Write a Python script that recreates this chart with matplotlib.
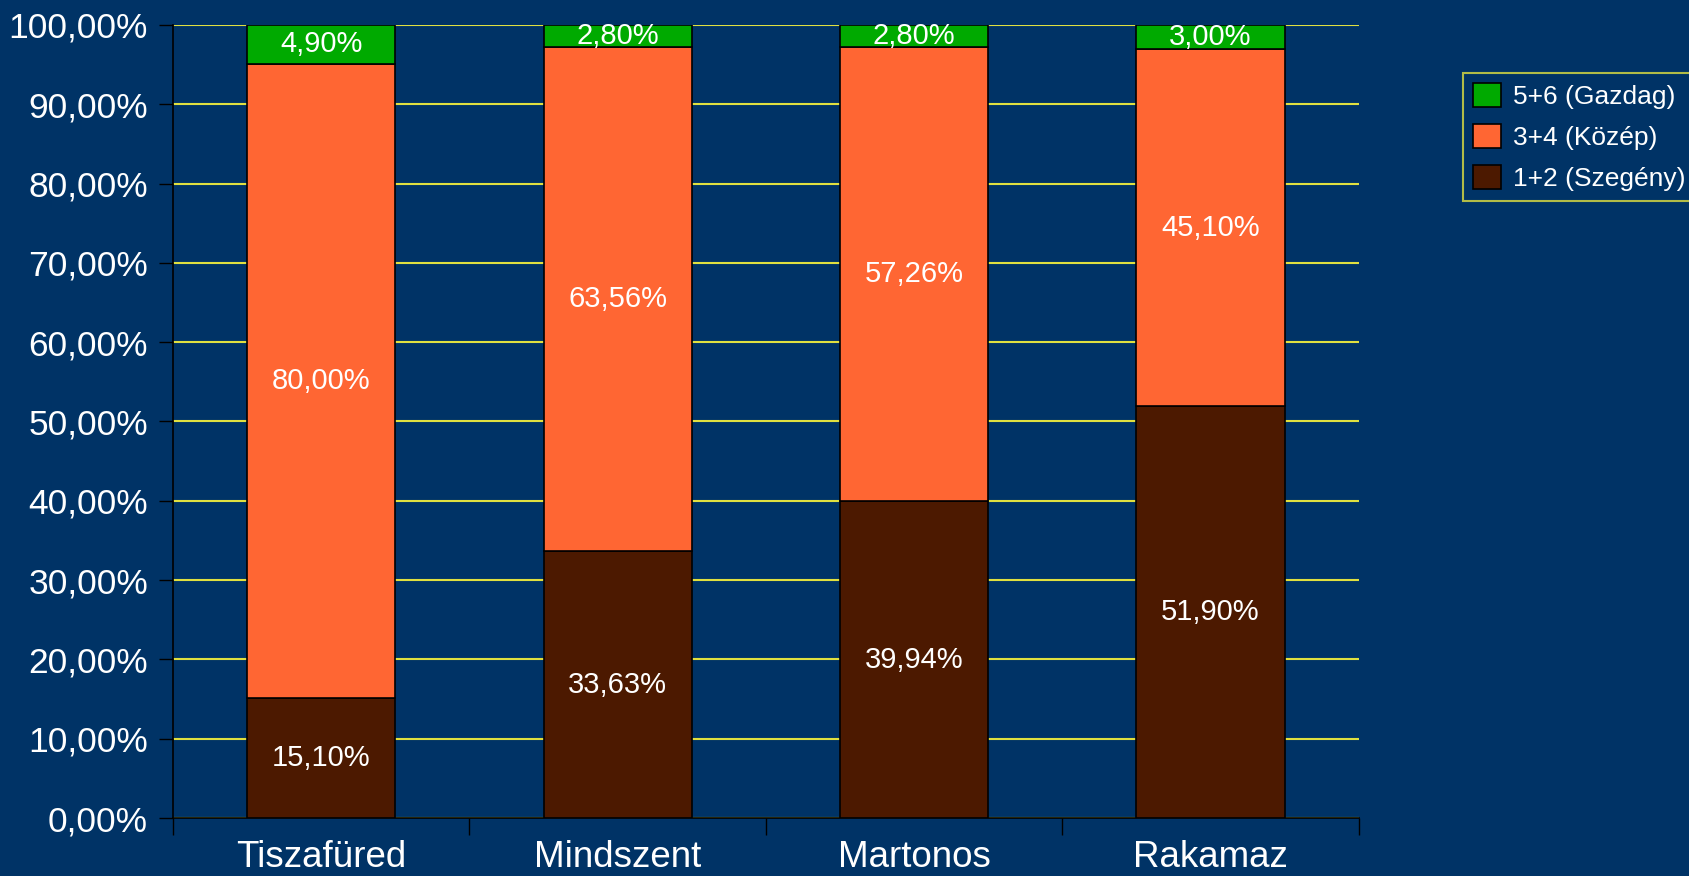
import numpy as np
import matplotlib.pyplot as plt

plt.rcParams["font.family"] = ["Liberation Sans", "DejaVu Sans"]

# ── DATA ─────────────────────────────────────────────────────
towns    = ["Tiszafüred", "Mindszent", "Martonos", "Rakamaz"]
poor     = [15.10, 33.63, 39.94, 51.90]   # 1+2 (Szegény)
middle   = [80.00, 63.56, 57.26, 45.10]   # 3+4 (Közép)
rich     = [4.90, 2.80, 2.80, 3.00]       # 5+6 (Gazdag)
y_ticks  = [0, 10, 20, 30, 40, 50, 60, 70, 80, 90, 100]

bg       = "#003366"
c_poor   = "#4C1900"
c_middle = "#FF6633"
c_rich   = "#00AA00"
grid_c   = "#E0E040"

def fmt(v):
    return f"{v:.2f}%".replace(".", ",")

fig = plt.figure(figsize=(16.9, 8.76), dpi=100, facecolor=bg)
ax = fig.add_axes([0.1024, 0.0662, 0.7016, 0.9053])
ax.set_facecolor(bg)

x = np.arange(len(towns))
w = 0.5
bottom_mid = np.array(poor)
bottom_rich = bottom_mid + np.array(middle)

ax.bar(x, poor, w, color=c_poor, edgecolor="black", linewidth=1.2, zorder=3, label="1+2 (Szegény)")
ax.bar(x, middle, w, bottom=bottom_mid, color=c_middle, edgecolor="black", linewidth=1.2, zorder=3, label="3+4 (Közép)")
ax.bar(x, rich, w, bottom=bottom_rich, color=c_rich, edgecolor="black", linewidth=1.2, zorder=3, label="5+6 (Gazdag)")

# segment labels
for i in range(len(towns)):
    ax.text(x[i], poor[i] / 2, fmt(poor[i]), ha="center", va="center", color="white", fontsize=21, zorder=4)
    ax.text(x[i], bottom_mid[i] + middle[i] / 2, fmt(middle[i]), ha="center", va="center", color="white", fontsize=21, zorder=4)
    ax.text(x[i], bottom_rich[i] + rich[i] / 2, fmt(rich[i]), ha="center", va="center", color="white", fontsize=21, zorder=4)

ax.set_xlim(-0.5, len(towns) - 0.5)
ax.set_ylim(0, 100)
ax.set_yticks(y_ticks)
ax.set_yticklabels([fmt(v) for v in y_ticks], color="white", fontsize=25.5)
ax.yaxis.grid(True, color=grid_c, linewidth=1.5, zorder=0)
ax.set_axisbelow(True)

# category labels at centres, ticks at boundaries
ax.set_xticks(x)
ax.set_xticklabels(towns, color="white", fontsize=26.5)
ax.tick_params(axis="x", length=0, pad=16)
ax.set_xticks(np.arange(-0.5, len(towns) + 0.5, 1), minor=True)
ax.tick_params(axis="x", which="minor", length=12, width=1, color="black", direction="out")
ax.tick_params(axis="y", length=10, width=1, color="black", direction="out", pad=8)

for s in ["top", "right"]:
    ax.spines[s].set_visible(False)
for s in ["left", "bottom"]:
    ax.spines[s].set_color("black")
    ax.spines[s].set_linewidth(1.2)

handles, labels = ax.get_legend_handles_labels()
leg = fig.legend(handles[::-1], labels[::-1], loc="upper left",
                 bbox_to_anchor=(0.8657, 0.9167), borderaxespad=0, fontsize=19,
                 frameon=True, facecolor=bg, edgecolor=grid_c, labelcolor="white",
                 handlelength=1.05, handleheight=1.05, borderpad=0.38,
                 labelspacing=0.55, handletextpad=0.45, fancybox=False)
leg.get_frame().set_linewidth(1.5)

fig.savefig("out.png", dpi=100, facecolor=bg)
